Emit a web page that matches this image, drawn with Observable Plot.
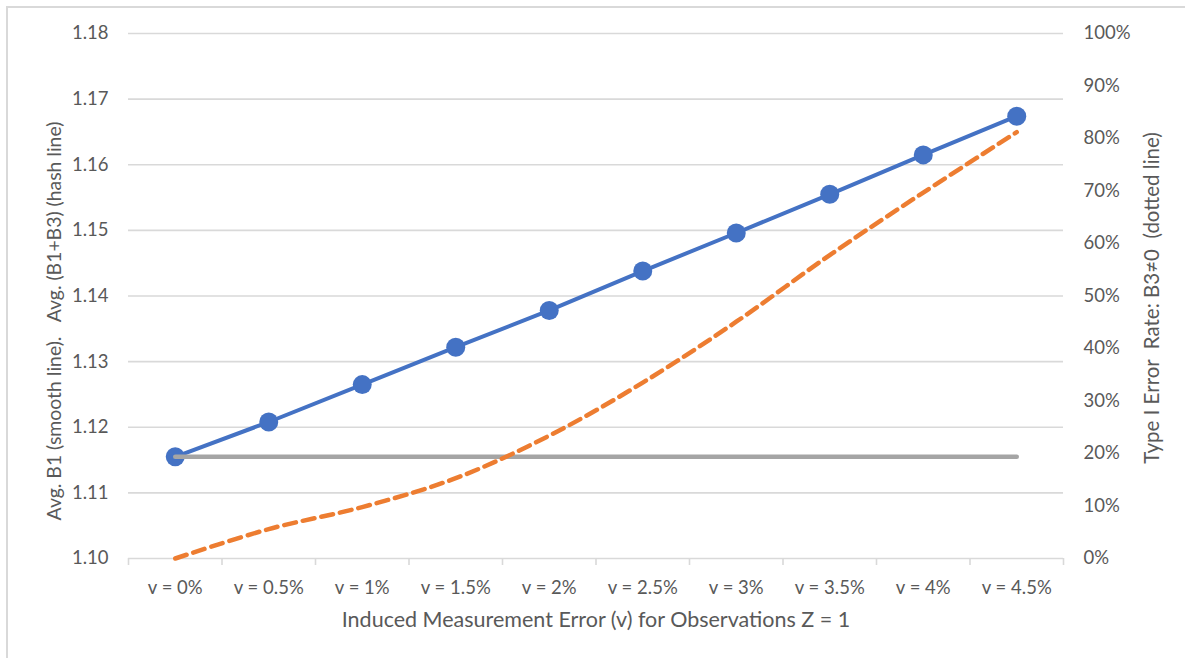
<!DOCTYPE html>
<html>
<head>
<meta charset="utf-8">
<script src="https://cdn.jsdelivr.net/npm/d3@7"></script>
<script src="https://cdn.jsdelivr.net/npm/@observablehq/plot@0.6"></script>
<style>
  html, body { margin: 0; padding: 0; background: #fff; }
  #chart { position: relative; width: 1185px; height: 658px; overflow: hidden; }
  #frame { position: absolute; left: 6px; top: 6px; right: -10px; bottom: -10px;
           border-left: 2px solid #d9d9d9; border-top: 2px solid #d9d9d9; pointer-events: none; }
  svg { font-family: Lato, "Open Sans", sans-serif; }
</style>
</head>
<body>
<div id="chart"><div id="frame"></div></div>
<script>
// Categories: induced measurement error levels
const categories = ["v = 0%", "v = 0.5%", "v = 1%", "v = 1.5%", "v = 2%",
                    "v = 2.5%", "v = 3%", "v = 3.5%", "v = 4%", "v = 4.5%"];

// Avg. (B1+B3) — blue line with markers
const avgB1B3 = [1.1155, 1.1208, 1.1265, 1.1322, 1.1378, 1.1438, 1.1496, 1.1555, 1.1615, 1.1674];
// Avg. B1 — flat gray line
const avgB1 = [1.1155, 1.1155, 1.1155, 1.1155, 1.1155, 1.1155, 1.1155, 1.1155, 1.1155, 1.1155];
// Type I error rate for B3≠0, in percent (right axis)
const typeIError = [0, 5.6, 9.8, 15.3, 23.4, 33.5, 45.1, 57.8, 69.7, 81.2];

// Axis ticks
const leftTicks = [1.10, 1.11, 1.12, 1.13, 1.14, 1.15, 1.16, 1.17, 1.18];
const rightTicks = [0, 10, 20, 30, 40, 50, 60, 70, 80, 90, 100];

// Left axis domain; the right (percent) axis spans the same vertical range
const yMin = 1.10, yMax = 1.18;
const pctToY = p => yMin + (p / 100) * (yMax - yMin);
const yToPct = v => Math.round((v - yMin) / (yMax - yMin) * 100);

const blueData = categories.map((c, i) => ({i, value: avgB1B3[i]}));
const grayData = categories.map((c, i) => ({i, value: avgB1[i]}));
const orangeData = categories.map((c, i) => ({i, value: pctToY(typeIError[i])}));
const bandEdges = d3.range(categories.length + 1).map(i => i - 0.5);

const textColor = "#595959";
const gridColor = "#d9d9d9";

const chart = Plot.plot({
  width: 1185,
  height: 658,
  marginLeft: 128,
  marginRight: 122,
  marginTop: 33,
  marginBottom: 100,
  style: {fontSize: "18px", color: textColor, background: "transparent"},
  x: {type: "linear", domain: [-0.5, categories.length - 0.5]},
  y: {domain: [yMin, yMax]},
  marks: [
    // horizontal gridlines
    Plot.gridY(leftTicks, {stroke: gridColor, strokeOpacity: 1, strokeWidth: 1.6}),
    // category axis: boundary ticks and labels
    Plot.axisX(bandEdges, {tickSize: 7, tickFormat: () => "", stroke: gridColor, strokeWidth: 1.6, label: null}),
    Plot.axisX(d3.range(categories.length), {tickSize: 0, tickPadding: 22, tickFormat: i => categories[i],
      fill: textColor, fontSize: 18.5, label: null}),
    // left value axis
    Plot.axisY(leftTicks, {anchor: "left", tickSize: 0, tickPadding: 20, tickFormat: d3.format(".2f"),
      fill: textColor, fontSize: 18.5, label: null}),
    // right percent axis
    Plot.axisY(rightTicks.map(pctToY), {anchor: "right", tickSize: 0, tickPadding: 20,
      tickFormat: v => yToPct(v) + "%", fill: textColor, fontSize: 18.5, label: null}),
    // Avg. (B1+B3)
    Plot.line(blueData, {x: "i", y: "value", stroke: "#4472C4", strokeWidth: 4}),
    Plot.dot(blueData, {x: "i", y: "value", r: 9.5, fill: "#4472C4", stroke: "none"}),
    // Avg. B1
    Plot.line(grayData, {x: "i", y: "value", stroke: "#A5A5A5", strokeWidth: 4.5}),
    // Type I error rate
    Plot.line(orangeData, {x: "i", y: "value", stroke: "#ED7D31", strokeWidth: 4.5,
      strokeDasharray: "12,7", curve: "catmull-rom"}),
    // axis titles
    Plot.text(["Avg. B1 (smooth line).   Avg. (B1+B3) (hash line)"], {frameAnchor: "left", dx: -74, dy: 25,
      rotate: -90, fill: textColor, fontSize: 19.4, textAnchor: "middle"}),
    Plot.text(["Type I Error  Rate: B3≠0  (dotted line)"], {frameAnchor: "right", dx: 89, dy: 2,
      rotate: -90, fill: textColor, fontSize: 20.5, textAnchor: "middle"}),
    Plot.text(["Induced Measurement Error (v) for Observations Z = 1"], {frameAnchor: "bottom", dy: 68,
      fill: textColor, fontSize: 21.5, textAnchor: "middle"})
  ]
});

// keep runs of spaces inside titles
chart.querySelectorAll("text").forEach(t => t.setAttribute("xml:space", "preserve"));
chart.style.whiteSpace = "pre";
document.getElementById("chart").prepend(chart);
</script>
</body>
</html>
